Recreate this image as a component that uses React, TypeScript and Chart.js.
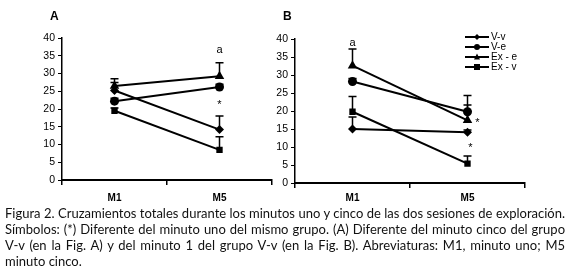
import React, { useEffect, useRef } from "react";
import { Chart, registerables } from "chart.js";

Chart.register(...registerables);

const categories = ["M1", "M5"];
const seriesNames = ["V-v", "V-e", "Ex - e", "Ex - v"];
const pointStyles = ["rectRot", "circle", "triangle", "rect"];
const yTicks = [0, 5, 10, 15, 20, 25, 30, 35, 40];

// Panel A
const aVv = [25.2, 14.2];
const aVe = [22.2, 26.2];
const aExe = [26.5, 29.2];
const aExv = [19.5, 8.5];
const aVvErr = [3.3, 3.8];
const aVeErr = [0.8, 0.8];
const aExeErr = [1.0, 3.8];
const aExvErr = [0.8, 3.7];
const aNotes = [
  { text: "a", cat: 1, value: 36.5, dx: 0 },
  { text: "*", cat: 1, value: 21, dx: 0 },
];

// Panel B
const bVv = [15.0, 14.1];
const bVe = [28.2, 19.8];
const bExe = [32.6, 17.4];
const bExv = [19.8, 5.4];
const bVvErr = [3.3, 0.6];
const bVeErr = [0.8, 4.5];
const bExeErr = [4.6, 4.3];
const bExvErr = [4.2, 2.1];
const bNotes = [
  { text: "a", cat: 0, value: 39, dx: 0 },
  { text: "*", cat: 1, value: 16.8, dx: 10 },
  { text: "*", cat: 1, value: 9.6, dx: 3 },
];

const errorBarPlugin = {
  id: "errorBars",
  beforeDatasetsDraw(chart: any) {
    const { ctx } = chart;
    const y = chart.scales.y;
    ctx.save();
    ctx.strokeStyle = "#000";
    ctx.lineWidth = 1.5;
    chart.data.datasets.forEach((ds: any, i: number) => {
      const meta = chart.getDatasetMeta(i);
      meta.data.forEach((pt: any, j: number) => {
        const v = ds.data[j];
        const e = ds.errors[j];
        const y0 = y.getPixelForValue(v);
        const y1 = y.getPixelForValue(v + e);
        ctx.beginPath();
        ctx.moveTo(pt.x, y0);
        ctx.lineTo(pt.x, y1);
        ctx.moveTo(pt.x - 4, y1);
        ctx.lineTo(pt.x + 4, y1);
        ctx.stroke();
      });
    });
    ctx.restore();
  },
};

const notesPlugin = {
  id: "notes",
  afterDatasetsDraw(chart: any, _args: any, opts: any) {
    const { ctx } = chart;
    const notes = opts.notes || [];
    ctx.save();
    ctx.fillStyle = "#000";
    ctx.font = "11px 'Liberation Sans', Arial, sans-serif";
    ctx.textAlign = "center";
    ctx.textBaseline = "middle";
    notes.forEach((n: any) => {
      const x = chart.scales.x.getPixelForValue(n.cat) + n.dx;
      const yy = chart.scales.y.getPixelForValue(n.value);
      ctx.fillText(n.text, x, yy);
    });
    ctx.restore();
  },
};

const legendPlugin = {
  id: "customLegend",
  afterDraw(chart: any, _args: any, opts: any) {
    if (!opts.show) return;
    const { ctx } = chart;
    const x0 = opts.x;
    const y0 = opts.y;
    ctx.save();
    chart.data.datasets.forEach((ds: any, i: number) => {
      const yy = y0 + i * 10;
      ctx.strokeStyle = "#000";
      ctx.lineWidth = 2;
      ctx.beginPath();
      ctx.moveTo(x0, yy);
      ctx.lineTo(x0 + 24, yy);
      ctx.stroke();
      ctx.fillStyle = "#000";
      const cx = x0 + 12;
      const r = 3;
      ctx.beginPath();
      if (ds.pointStyle === "circle") {
        ctx.arc(cx, yy, r, 0, Math.PI * 2);
      } else if (ds.pointStyle === "rect") {
        ctx.rect(cx - r, yy - r, 2 * r, 2 * r);
      } else if (ds.pointStyle === "triangle") {
        ctx.moveTo(cx, yy - r - 0.5);
        ctx.lineTo(cx + r, yy + r - 0.5);
        ctx.lineTo(cx - r, yy + r - 0.5);
        ctx.closePath();
      } else {
        ctx.moveTo(cx, yy - r);
        ctx.lineTo(cx + r, yy);
        ctx.lineTo(cx, yy + r);
        ctx.lineTo(cx - r, yy);
        ctx.closePath();
      }
      ctx.fill();
      ctx.font = "10px 'Liberation Sans', Arial, sans-serif";
      ctx.textAlign = "left";
      ctx.textBaseline = "middle";
      ctx.fillText(ds.label, x0 + 26, yy);
    });
    ctx.restore();
  },
};

function makeDatasets(vals: number[][], errs: number[][]) {
  return vals.map((v, i) => ({
    label: seriesNames[i],
    data: v,
    errors: errs[i],
    borderColor: "#000",
    backgroundColor: "#000",
    borderWidth: 2,
    pointStyle: pointStyles[i],
    pointRadius: i === 2 ? 5.5 : 4.5,
    pointBackgroundColor: "#000",
    pointBorderColor: "#000",
    pointBorderWidth: 0,
    tension: 0,
  }));
}

type PanelProps = {
  vals: number[][];
  errs: number[][];
  notes: any[];
  left: number;
  width: number;
  yWidth: number;
  padTop: number;
  padRight: number;
  xHeight: number;
  xPad: number;
  legend: boolean;
  legendX: number;
  legendY: number;
};

function Panel(p: PanelProps) {
  const ref = useRef<HTMLCanvasElement>(null);
  useEffect(() => {
    const chart = new Chart(ref.current as HTMLCanvasElement, {
      type: "line",
      data: { labels: categories, datasets: makeDatasets(p.vals, p.errs) as any },
      plugins: [errorBarPlugin, notesPlugin, legendPlugin],
      options: {
        responsive: false,
        animation: false,
        layout: { padding: { top: p.padTop, right: p.padRight, left: 0, bottom: 0 } },
        plugins: {
          legend: { display: false },
          tooltip: { enabled: false },
          notes: { notes: p.notes },
          customLegend: { show: p.legend, x: p.legendX, y: p.legendY },
        } as any,
        scales: {
          x: {
            type: "category",
            offset: true,
            grid: { offset: true, drawOnChartArea: false, tickLength: 5, color: "#000", lineWidth: 1.5 },
            border: { color: "#000", width: 2 },
            ticks: {
              color: "#000",
              padding: p.xPad,
              font: { family: "'Liberation Sans', Arial, sans-serif", size: 10, weight: "bold" },
            },
            afterFit: (s: any) => {
              s.height = p.xHeight;
            },
          },
          y: {
            min: 0,
            max: 40,
            afterBuildTicks: (s: any) => {
              s.ticks = yTicks.map((v) => ({ value: v }));
            },
            grid: { drawOnChartArea: false, tickLength: 4, color: "#000", lineWidth: 1 },
            border: { color: "#000", width: 1.5 },
            ticks: {
              color: "#000",
              padding: 3,
              font: { family: "'Liberation Sans', Arial, sans-serif", size: 10.5 },
            },
            afterFit: (s: any) => {
              s.width = p.yWidth;
            },
          },
        },
      } as any,
    });
    return () => chart.destroy();
  }, []);
  return (
    <canvas
      ref={ref}
      width={p.width}
      height={210}
      style={{ position: "absolute", left: p.left, top: 0, width: p.width, height: 210 }}
    />
  );
}

const captionLines = [
  "Figura 2. Cruzamientos totales durante los minutos uno y cinco de las dos sesiones de exploración.",
  "Símbolos: (*) Diferente del minuto uno del mismo grupo. (A) Diferente del minuto cinco del grupo",
  "V-v (en la Fig. A) y del minuto 1 del grupo V-v (en la Fig. B). Abreviaturas: M1, minuto uno; M5",
  "minuto cinco.",
];

export default function App() {
  return (
    <div style={{ position: "absolute", left: 0, top: 0, width: 569, height: 271, background: "#fff" }}>
      <Panel
        vals={[aVv, aVe, aExe, aExv]}
        errs={[aVvErr, aVeErr, aExeErr, aExvErr]}
        notes={aNotes}
        left={0}
        width={280}
        yWidth={62}
        padTop={38}
        padRight={8}
        xHeight={30}
        xPad={7}
        legend={false}
        legendX={0}
        legendY={0}
      />
      <Panel
        vals={[bVv, bVe, bExe, bExv]}
        errs={[bVvErr, bVeErr, bExeErr, bExvErr]}
        notes={bNotes}
        left={270}
        width={299}
        yWidth={25}
        padTop={39}
        padRight={44}
        xHeight={27}
        xPad={4}
        legend={true}
        legendX={195}
        legendY={37}
      />
      <div
        style={{
          position: "absolute",
          left: 50,
          top: 9,
          font: "bold 12px 'Liberation Sans', Arial, sans-serif",
          color: "#000",
        }}
      >
        A
      </div>
      <div
        style={{
          position: "absolute",
          left: 283,
          top: 9,
          font: "bold 12px 'Liberation Sans', Arial, sans-serif",
          color: "#000",
        }}
      >
        B
      </div>
      <div
        style={{
          position: "absolute",
          left: 5,
          top: 205,
          width: 560,
          font: "13px Lato, sans-serif",
          lineHeight: "16px",
          color: "#111",
        }}
      >
        {captionLines.map((l, i) => (
          <div
            key={i}
            style={{
              textAlign: "justify",
              textAlignLast: i < captionLines.length - 1 ? "justify" : "left",
              whiteSpace: "nowrap",
            }}
          >
            {l}
          </div>
        ))}
      </div>
    </div>
  );
}
